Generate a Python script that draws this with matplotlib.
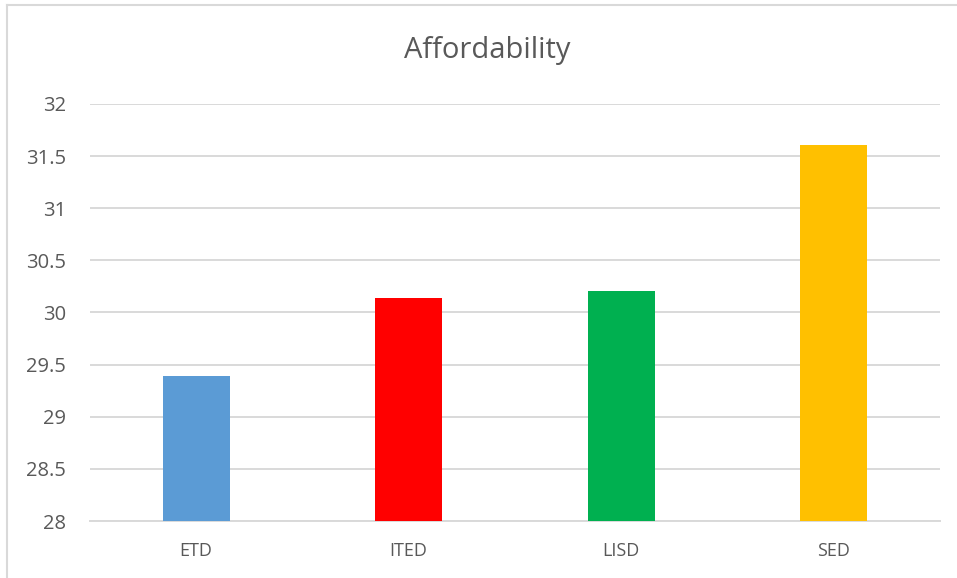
import matplotlib.pyplot as plt
from matplotlib.lines import Line2D

categories = ['ETD', 'ITED', 'LISD', 'SED']
values = [29.39, 30.14, 30.21, 31.61]
colors = ['#5B9BD5', '#FF0000', '#00B050', '#FFC000']
yticks = [28, 28.5, 29, 29.5, 30, 30.5, 31, 31.5, 32]
ytick_labels = ['28', '28.5', '29', '29.5', '30', '30.5', '31', '31.5', '32']

plt.rcParams['font.family'] = ['Open Sans', 'DejaVu Sans']

fig = plt.figure(figsize=(9.57, 5.78), dpi=100)
ax = fig.add_axes([0.094, 0.0986, 0.888, 0.7215])

x = range(len(categories))
ax.bar(x, [v - 28 for v in values], bottom=28, width=0.315, color=colors, zorder=3)

ax.set_xlim(-0.5, len(categories) - 0.5)
ax.set_ylim(28, 32)
ax.set_yticks(yticks)
ax.set_yticklabels(ytick_labels)
ax.set_xticks(list(x))
ax.set_xticklabels(categories)

ax.grid(axis='y', color='#d9d9d9', linewidth=1.4, zorder=0)
for s in ['top', 'right', 'left']:
    ax.spines[s].set_visible(False)
ax.spines['bottom'].set_color('#d9d9d9')
ax.spines['bottom'].set_linewidth(1.4)
ax.tick_params(axis='both', length=0, colors='#595959')
ax.tick_params(axis='y', pad=17, labelsize=14.5)
ax.tick_params(axis='x', pad=15, labelsize=13)

# title centred on the whole chart area
fig.text(0.509, 0.912, 'Affordability', fontsize=21, color='#595959',
         ha='center', va='center')

# chart area border (left and top edges)
fig.add_artist(Line2D([0.0075, 0.0075], [0, 0.991], transform=fig.transFigure,
                      color='#d9d9d9', linewidth=1.5))
fig.add_artist(Line2D([0.0075, 1.0], [0.991, 0.991], transform=fig.transFigure,
                      color='#d9d9d9', linewidth=1.5))

fig.savefig('out.png', dpi=100)
